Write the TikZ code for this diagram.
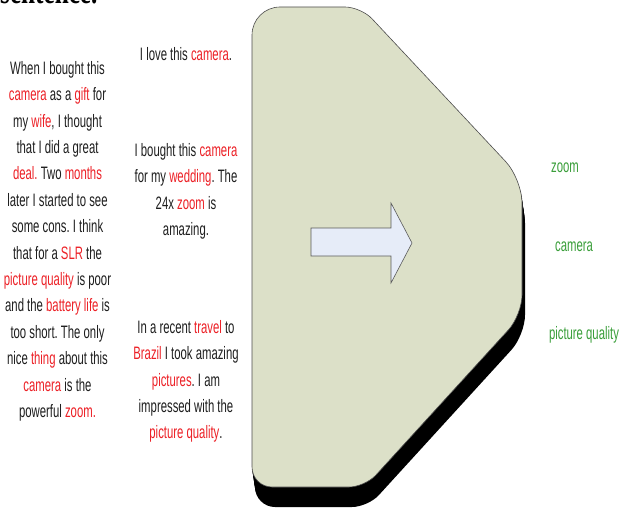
\documentclass[tikz,border=0pt]{standalone}
\usepackage{fontspec}
\setmainfont{Liberation Sans}
\newfontfamily\narrow[FakeStretch=0.63]{Liberation Sans}
\newfontfamily\topfont[FakeStretch=0.7]{Liberation Serif Bold}
\definecolor{kwred}{RGB}{236,32,38}
\definecolor{kwgreen}{RGB}{58,158,58}
\definecolor{txt}{RGB}{30,30,30}
\definecolor{shapefill}{RGB}{220,224,200}
\definecolor{arrowfill}{RGB}{230,236,248}
\newcommand\kw[1]{\textcolor{kwred}{#1}}
\newcommand\bigshape[1]{\path[#1] (252,250) [rounded corners=20] -- (252,487) [rounded corners=16] -- (365,487) [rounded corners=20] -- (522,315) [rounded corners=24] -- (522,179) [rounded corners=16] -- (361,7) [rounded corners=28] -- (252,7) -- cycle;}
\frenchspacing
\begin{document}
\begin{tikzpicture}[x=1pt,y=-1pt,
  txtstyle/.style={font=\narrow\fontsize{18}{26.4}\selectfont, text=txt, align=center, inner sep=0pt},
  featstyle/.style={font=\narrow\fontsize{18}{20}\selectfont, text=kwgreen, inner sep=0pt}]
\useasboundingbox (0,0) rectangle (619,511);
\node[anchor=base west, inner sep=0pt, font=\topfont\fontsize{36}{36}\selectfont, text=black] (top) at (0,4) {sentence.};
% shadow (extruded)
\foreach \i in {1,...,10} {\bigshape{fill=black, shift={(0.3*\i,2*\i)}}}
% main shape
\bigshape{fill=shapefill, draw=black!70, line width=0.6pt}
% block arrow
\draw[fill=arrowfill, draw=black!65, line width=0.6pt] (311,228) -- (391,228) -- (391,203) -- (412,243) -- (391,283) -- (391,256) -- (311,256) -- cycle;
% review text
\node[txtstyle, anchor=north] (review) at (57.5,61) {When I bought this\\ \kw{camera} as a \kw{gift} for\\ my \kw{wife}, I thought\\ that I did a great\\ \kw{deal.} Two \kw{months}\\ later I started to see\\ some cons. I think\\ that for a \kw{SLR} the\\ \kw{picture quality} is poor\\ and the \kw{battery life} is\\ too short. The only\\ nice \kw{thing} about this\\ \kw{camera} is the\\ powerful \kw{zoom.}};
\node[txtstyle, anchor=north] (s1) at (186,47) {I love this \kw{camera}.};
\node[txtstyle, anchor=north] (s2) at (186,143) {I bought this \kw{camera}\\ for my \kw{wedding}. The\\ 24x \kw{zoom} is\\ amazing.};
\node[txtstyle, anchor=north] (s3) at (186,320) {In a recent \kw{travel} to\\ \kw{Brazil} I took amazing\\ \kw{pictures}. I am\\ impressed with the\\ \kw{picture quality}.};
% features
\node[featstyle] (f1) at (565,168) {zoom};
\node[featstyle] (f2) at (574,247) {camera};
\node[featstyle] (f3) at (584,335) {picture quality};
\end{tikzpicture}
\end{document}
